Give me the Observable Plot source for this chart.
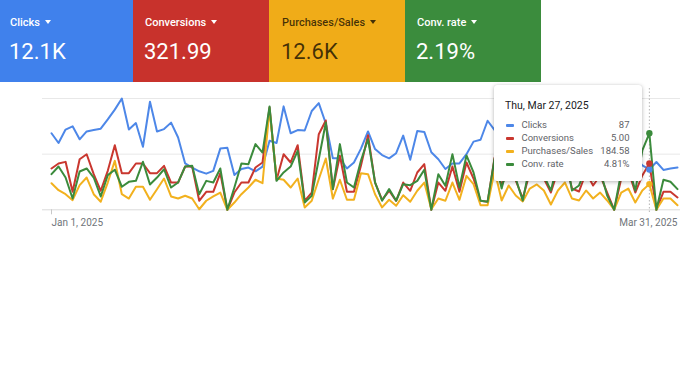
<!DOCTYPE html>
<html>
<head>
<meta charset="utf-8">
<script src="https://cdn.jsdelivr.net/npm/d3@7"></script>
<script src="https://cdn.jsdelivr.net/npm/@observablehq/plot@0.6"></script>
<style>
  html, body { margin: 0; padding: 0; background: #fff; }
  body { width: 680px; height: 383px; position: relative; overflow: hidden; font-family: Roboto, "Noto Sans", sans-serif; }
  .tile { position: absolute; top: 0; height: 82px; box-sizing: border-box; }
  .tile .lab { position: absolute; top: 16px; font-size: 11px; font-weight: 500; line-height: 13px; white-space: nowrap; }
  .tile .tri { display: inline-block; width: 0; height: 0; border-left: 3.5px solid transparent; border-right: 3.5px solid transparent; border-top: 4px solid currentColor; margin-left: 5px; vertical-align: 2px; }
  .tile .val { position: absolute; top: 39px; font-size: 22px; line-height: 26px; white-space: nowrap; }
  #chart { position: absolute; left: 0; top: 82px; }
  #tip { position: absolute; left: 494px; top: 85px; width: 148px; height: 96px; background: #fff; border-radius: 3px; box-shadow: 0 1px 4px rgba(0,0,0,0.28), 0 0 1px rgba(0,0,0,0.12); }
  #tip .title { position: absolute; left: 11px; top: 15px; font-size: 10.5px; line-height: 12px; color: #202124; white-space: nowrap; }
  #tip .row { position: absolute; left: 0; right: 0; height: 12px; font-size: 9.5px; line-height: 12px; color: #5f6368; }
  #tip .mk { position: absolute; left: 12px; top: 5px; width: 8px; height: 2.5px; border-radius: 1px; }
  #tip .nm { position: absolute; left: 27.5px; top: 0; white-space: nowrap; }
  #tip .vl { position: absolute; right: 12.5px; top: 0; white-space: nowrap; }
</style>
</head>
<body>
<div id="tiles"></div>
<div id="chart"></div>
<div id="tip"></div>
<script>
// ---- data ----
const seriesNames = ["Clicks", "Conversions", "Purchases/Sales", "Conv. rate"];
const kpiValues = ["12.1K", "321.99", "12.6K", "2.19%"];
const startDate = "2025-01-01";
const dayCount = 90;
const tickLabels = ["Jan 1, 2025", "Mar 31, 2025"];
const hoverIndex = 85;

const clicks = [165,144,173,180,152,169,172,175,195,216,
  240,173,187,136,233,169,174,188,156,100,
  91,83,78,84,132,134,75,88,91,83,
  93,149,144,223,165,172,171,213,230,186,
  111,111,89,102,132,169,131,118,111,122,
  160,108,170,168,124,109,88,100,100,120,
  147,151,192,172,160,132,106,145,117,85,
  128,154,111,96,139,124,89,106,132,149,
  117,102,128,111,96,87,103,86,89,91];

const conversions = [4.45,4.99,5.17,1.94,5.45,5.99,3.84,2.05,4.20,6.96,
  3.95,3.95,4.99,4.99,3.95,3.95,4.74,2.94,2.94,4.67,
  4.67,0.97,1.94,1.94,3.95,0,1.86,2.94,2.94,4.56,
  5.10,11.03,3.23,5.99,5.10,6.96,0.97,1.86,8.15,9.63,
  2.22,5.82,1.94,1.94,4.78,8.04,2.94,1.08,2.05,0.97,
  2.94,2.05,4.02,4.92,0,2.94,2.05,4.67,1.94,5.10,
  3.37,0.97,0.86,5.64,2.62,4.45,3.16,1.22,4.02,4.78,
  3.37,1.86,4.24,5.31,2.30,1.97,4.02,2.62,3.70,1.86,
  0,3.37,4.24,1.86,3.70,5.00,0,1.94,1.94,1.33];

const purchases = [191,141,112,69,177,232,112,58,196,352,
  112,81,165,165,72,148,225,96,81,101,
  81,4,65,96,124,0,52,112,160,216,
  191,721,225,216,160,225,17,65,220,369,
  81,216,72,72,263,256,112,17,72,29,
  105,58,137,196,4,81,65,196,72,244,
  184,33,33,283,67,175,103,60,153,182,
  139,38,139,196,81,67,139,81,124,67,
  2,124,153,52,139,184.58,0,81,81,33];

const convRate = [2.24,2.72,2.03,0.71,2.41,2.60,2.03,0.84,2.18,2.52,
  1.45,1.76,1.82,3.02,1.59,2.03,2.55,1.40,1.72,2.72,
  2.77,0.98,1.82,1.72,2.60,0,1.40,2.91,2.87,4.13,
  3.60,6.50,1.82,2.35,2.72,3.71,0.46,0.88,3.18,5.49,
  1.30,4.13,1.72,1.40,3.10,4.44,1.72,0.57,1.30,0.57,
  1.61,1.55,1.82,2.52,0,2.24,1.51,3.50,1.40,3.42,
  2.35,0.57,0.50,3.23,1.34,3.10,1.97,0.58,2.79,3.23,
  2.16,1.21,2.98,3.73,1.21,1.53,2.60,1.84,2.47,0.90,
  0,2.35,2.79,1.21,3.73,4.81,0,1.89,1.76,1.30];

// per-series axis maximum (each metric has its own hidden axis)
const axisMax = [240, 12, 800, 7];

// ---- styling ----
const tileColors = ["#4081ec", "#c8322c", "#f0ac18", "#3b8c3d"];
const tileText = ["#ffffff", "#ffffff", "rgba(0,0,0,0.72)", "#ffffff"];
const lineColors = ["#4d87e8", "#c9372f", "#f2b11e", "#3b8b3c"];
const seriesValues = [clicks, conversions, purchases, convRate];
const formats = [d3.format(",d"), d3.format(".2f"), d3.format(".2f"), v => d3.format(".2f")(v) + "%"];

// ---- tiles ----
const tileLeft = [0, 133, 269, 405];
const tileWidth = [133, 136, 136, 136];
const textLeft = [10, 12, 13, 12];
const tilesEl = document.getElementById("tiles");
seriesNames.forEach((name, i) => {
  const t = document.createElement("div");
  t.className = "tile";
  t.style.left = tileLeft[i] + "px";
  t.style.width = tileWidth[i] + "px";
  t.style.background = tileColors[i];
  t.style.color = tileText[i];
  const lab = document.createElement("div");
  lab.className = "lab";
  lab.style.left = textLeft[i] + "px";
  lab.textContent = name;
  const tri = document.createElement("span");
  tri.className = "tri";
  lab.appendChild(tri);
  const val = document.createElement("div");
  val.className = "val";
  val.style.left = (textLeft[i] - 1) + "px";
  val.textContent = kpiValues[i];
  t.appendChild(lab);
  t.appendChild(val);
  tilesEl.appendChild(t);
});

// ---- chart ----
const dates = d3.utcDay.range(new Date(startDate + "T00:00Z"), d3.utcDay.offset(new Date(startDate + "T00:00Z"), dayCount));
const long = [];
seriesNames.forEach((s, k) => {
  seriesValues[k].forEach((v, i) => long.push({series: s, date: dates[i], value: v, norm: v / axisMax[k]}));
});
const hoverDate = dates[hoverIndex];

const chart = Plot.plot({
  width: 680,
  height: 150,
  marginTop: 16,
  marginBottom: 22.7,
  marginLeft: 51,
  marginRight: 3,
  style: {fontFamily: "Roboto, 'Noto Sans', sans-serif", background: "transparent"},
  x: {type: "utc", domain: [dates[0], dates[dates.length - 1]], axis: null},
  y: {domain: [0, 1], axis: null},
  color: {domain: seriesNames, range: lineColors},
  marks: [
    Plot.ruleY([0.5, 1], {stroke: "#e8e8e8", strokeWidth: 1, insetLeft: -9, insetRight: -3}),
    Plot.ruleY([0], {stroke: "#dadada", strokeWidth: 1, insetLeft: -9, insetRight: -3}),
    Plot.ruleX([dates[0]], {stroke: "#c8c8c8", insetTop: 111.3, insetBottom: -5}),
    Plot.ruleX([hoverDate], {stroke: "#b5b5b5", strokeDasharray: "1.5,2", insetTop: -10, insetBottom: -3}),
    Plot.line(long, {x: "date", y: "norm", z: "series", stroke: "series", strokeWidth: 2}),
    Plot.dot(long.filter(d => +d.date === +hoverDate), {x: "date", y: "norm", fill: "series", r: 3.2}),
    Plot.text([dates[0]], {x: d => d, text: () => tickLabels[0], frameAnchor: "bottom", dy: 16, textAnchor: "start", fill: "#70757a", fontSize: 10}),
    Plot.text([dates[dates.length - 1]], {x: d => d, text: () => tickLabels[1], frameAnchor: "bottom", dy: 16, textAnchor: "end", fill: "#70757a", fontSize: 10})
  ]
});
document.getElementById("chart").appendChild(chart);

// ---- tooltip ----
const tip = document.getElementById("tip");
const title = document.createElement("div");
title.className = "title";
title.textContent = d3.utcFormat("%a, %b %-d, %Y")(hoverDate);
tip.appendChild(title);
const rowTops = [34, 47, 60, 73];
seriesNames.forEach((s, k) => {
  const r = document.createElement("div");
  r.className = "row";
  r.style.top = rowTops[k] + "px";
  const mk = document.createElement("div");
  mk.className = "mk";
  mk.style.background = lineColors[k];
  const nm = document.createElement("div");
  nm.className = "nm";
  nm.textContent = s;
  const vl = document.createElement("div");
  vl.className = "vl";
  vl.textContent = formats[k](seriesValues[k][hoverIndex]);
  r.appendChild(mk); r.appendChild(nm); r.appendChild(vl);
  tip.appendChild(r);
});
</script>
</body>
</html>
